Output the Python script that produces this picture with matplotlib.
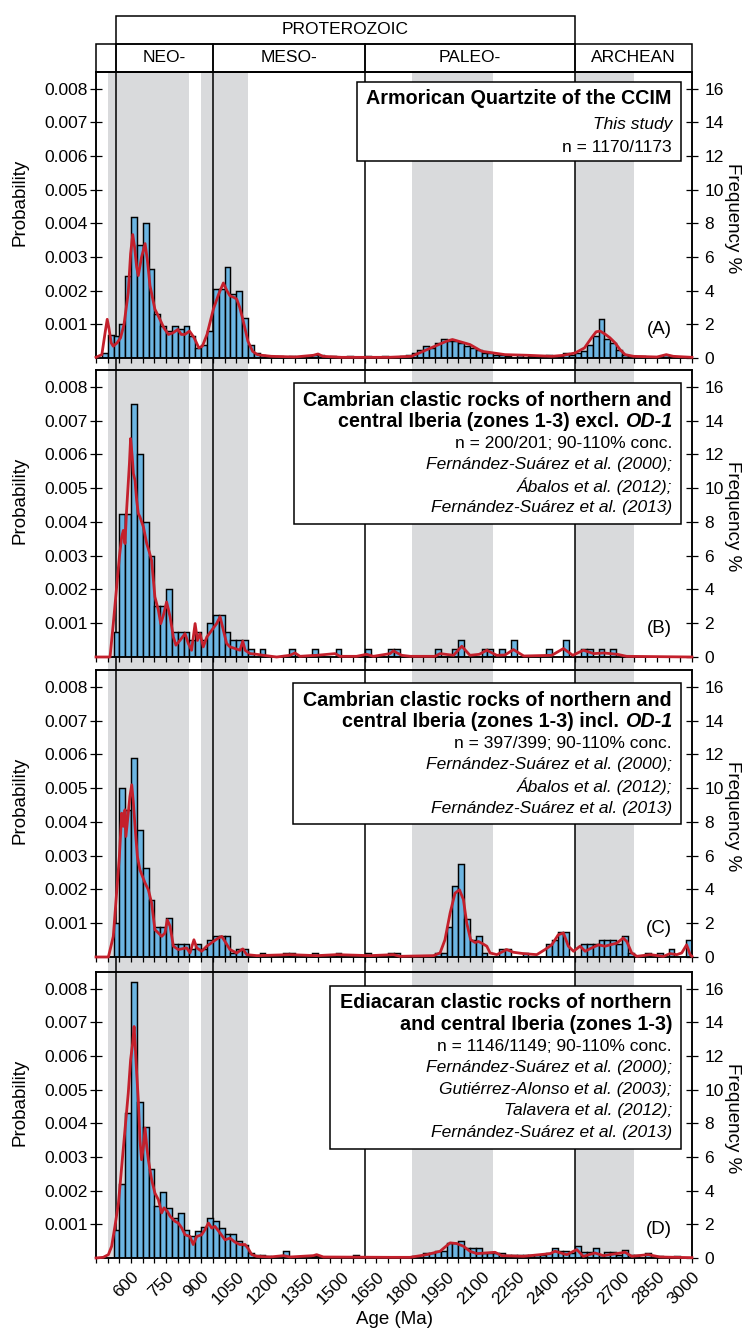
import matplotlib
matplotlib.use("Agg")
import numpy as np
import matplotlib.pyplot as plt
from matplotlib.patches import Rectangle

plt.rcParams['font.family'] = ['Liberation Sans', 'DejaVu Sans']

# ---- data -------------------------------------------------------------
bin_width = 25
age_min, age_max = 450, 3000

# grey time bands and boundaries (Ma)
bands = [(500, 850), (900, 1100), (1800, 2150), (2500, 2750)]
boundaries = [535, 950, 1600, 2500]
eon_cells = [(450, 535, ''), (535, 950, 'NEO-'), (950, 1600, 'MESO-'),
             (1600, 2500, 'PALEO-'), (2500, 3000, 'ARCHEAN')]
proterozoic = (535, 2500, 'PROTEROZOIC')

# (A) Armorican Quartzite - histogram bins (left edge, Ma) and frequency %
a_bins = [475, 500, 525, 550, 575, 600, 625, 650, 675, 700, 725, 750, 775, 800, 825,
          850, 875, 900, 925, 950, 975, 1000, 1025, 1050, 1075, 1100, 1125, 1150, 1175,
          1225, 1275, 1350, 1375, 1400, 1450, 1525, 1600, 1675, 1750, 1775, 1800, 1825,
          1850, 1875, 1900, 1925, 1950, 1975, 2000, 2025, 2050, 2075, 2100, 2125, 2150,
          2175, 2200, 2250, 2300, 2325, 2375, 2425, 2450, 2475, 2500, 2525, 2550, 2575,
          2600, 2625, 2650, 2675, 2700, 2725, 2775, 2875, 2900]
a_freq = [0.3, 1.35, 1.3, 2.0, 4.9, 8.4, 6.7, 8.0, 5.3, 2.6, 1.9, 1.6, 1.9, 1.7, 1.9,
          1.3, 0.6, 0.8, 1.6, 4.1, 4.1, 5.4, 3.8, 4.0, 2.4, 0.8, 0.3, 0.2, 0.1,
          0.1, 0.1, 0.1, 0.2, 0.2, 0.1, 0.1, 0.1, 0.1, 0.1, 0.2, 0.3, 0.5,
          0.7, 0.6, 0.9, 1.1, 1.0, 1.0, 0.9, 0.7, 0.6, 0.5, 0.3, 0.3, 0.2,
          0.2, 0.1, 0.2, 0.1, 0.1, 0.2, 0.1, 0.3, 0.2, 0.3, 0.4, 0.8, 1.3,
          2.3, 1.1, 0.9, 0.5, 0.2, 0.1, 0.1, 0.2, 0.1]
# probability density curve, age (Ma) and probability x 1000
a_pdp_age = [450, 475, 490, 498, 505, 515, 524, 540, 555, 570, 588, 598, 607, 615, 624,
             631, 645, 660, 670, 681, 702, 720, 740, 760, 780, 800, 815, 830, 850, 870,
             890, 905, 925, 952, 975, 995, 1010, 1023, 1040, 1052, 1065, 1080, 1100,
             1120, 1140, 1160, 1200, 1300, 1380, 1400, 1420, 1500, 1600, 1700, 1800,
             1850, 1900, 1950, 1975, 2000, 2050, 2075, 2100, 2150, 2200, 2300, 2400,
             2450, 2500, 2540, 2570, 2590, 2607, 2630, 2649, 2671, 2692, 2714, 2750,
             2850, 2890, 2920, 3000]
a_pdp = [0.02, 0.1, 0.8, 1.15, 0.9, 0.45, 0.35, 0.45, 0.6, 1.0, 1.95, 3.1, 3.67, 3.3, 2.7,
         2.45, 3.0, 3.4, 2.9, 2.15, 1.45, 1.2, 0.9, 0.7, 0.75, 0.85, 0.7, 0.7, 0.8, 0.6,
         0.3, 0.35, 0.7, 1.45, 1.9, 2.23, 2.0, 1.85, 1.8, 1.75, 1.5, 1.1, 0.5,
         0.2, 0.1, 0.08, 0.05, 0.03, 0.08, 0.12, 0.05, 0.02, 0.02, 0.02, 0.05,
         0.2, 0.35, 0.5, 0.55, 0.5, 0.4, 0.3, 0.2, 0.15, 0.1, 0.08, 0.05,
         0.08, 0.15, 0.3, 0.6, 0.78, 0.8, 0.7, 0.6, 0.45, 0.25, 0.1, 0.05,
         0.03, 0.1, 0.05, 0.02]

# (B) Cambrian excl. OD-1
b_bins = [525, 550, 575, 600, 625, 650, 675, 700, 725, 750, 775, 800, 825, 850, 875,
          900, 925, 950, 975, 1000, 1025, 1050, 1075, 1100, 1150, 1275, 1375, 1475, 1600,
          1700, 1725, 1900, 1975, 2000, 2100, 2125, 2175, 2225, 2375, 2450, 2525, 2550,
          2600, 2650]
b_freq = [1.5, 8.5, 8.5, 15.0, 12.0, 8.0, 6.0, 3.0, 3.0, 4.0, 1.5, 1.5, 1.5, 1.0, 1.5,
          1.0, 2.0, 2.5, 2.5, 1.5, 1.0, 1.0, 1.0, 0.5, 0.5, 0.5, 0.5, 0.5, 0.5,
          0.5, 0.5, 0.5, 0.5, 1.0, 0.5, 0.5, 0.5, 1.0, 0.5, 1.0, 0.5, 0.5,
          0.5, 0.5]
b_pdp_age = [450, 510, 524, 550, 560, 567, 574, 581, 593, 598, 605, 610, 617, 624, 631,
             638, 653, 667, 678, 688, 702, 717, 727, 738, 752, 767, 781, 792, 809, 831,
             845, 859, 874, 884, 895, 909, 924, 945, 966, 981, 995, 1009, 1023, 1045,
             1066, 1078, 1088, 1109, 1138, 1166, 1223, 1280, 1301, 1323, 1366, 1394,
             1473, 1494, 1565, 1608, 1637, 1708, 1722, 1758, 1794, 1900, 1922, 1980,
             2015, 2050, 2090, 2122, 2165, 2200, 2236, 2280, 2400, 2450, 2490, 2535,
             2580, 2621, 2680, 2720, 3000]
b_pdp = [0.0, 0.0, 0.99, 2.96, 3.56, 3.75, 3.36, 4.35, 5.73, 6.47, 5.93, 5.43, 5.23, 4.64, 4.25,
         4.15, 3.85, 3.36, 3.11, 2.86, 1.78, 1.38, 0.99, 1.23, 1.63, 1.19, 0.59, 0.35, 0.49, 0.69,
         0.40, 0.20, 0.99, 0.49, 0.69, 0.30, 0.59, 0.79, 0.99, 1.19, 0.79, 0.40, 0.30, 0.25,
         0.20, 0.47, 0.20, 0.10, 0.08, 0.05, 0.0, 0.05, 0.12, 0.02, 0.04, 0.05,
         0.10, 0.02, 0.02, 0.08, 0.02, 0.10, 0.18, 0.05, 0.02, 0.02, 0.1, 0.05,
         0.32, 0.05, 0.08, 0.2, 0.05, 0.06, 0.22, 0.03, 0.05, 0.25, 0.05, 0.2,
         0.1, 0.12, 0.08, 0.02, 0.0]

# (C) Cambrian incl. OD-1
c_bins = [525, 550, 575, 600, 625, 650, 675, 700, 725, 750, 775, 800, 825, 850, 875,
          900, 925, 950, 975, 1000, 1025, 1050, 1075, 1150, 1250, 1275, 1375, 1475, 1600,
          1700, 1725, 1900, 1925, 1950, 1975, 2000, 2025, 2050, 2075, 2100, 2175, 2200,
          2275, 2375, 2400, 2425, 2450, 2525, 2550, 2575, 2600, 2625, 2650, 2675, 2700,
          2725, 2800, 2850, 2900, 2975]
c_freq = [2.0, 10.0, 8.7, 11.8, 7.5, 5.3, 3.4, 1.8, 1.8, 2.3, 0.75, 0.75, 0.75, 0.5, 0.75,
          0.5, 1.0, 1.25, 1.25, 1.25, 0.25, 0.5, 0.5, 0.25, 0.25, 0.25, 0.25, 0.25, 0.25,
          0.25, 0.25, 0.25, 0.25, 1.8, 4.2, 5.5, 2.25, 1.0, 1.25, 0.25, 0.5, 0.5,
          0.25, 0.75, 1.0, 1.5, 1.5, 0.75, 0.75, 0.75, 1.0, 1.0, 1.0, 0.75, 1.25,
          0.25, 0.25, 0.25, 0.5, 1.0]
c_pdp_age = [450, 503, 524, 550, 560, 567, 574, 578, 588, 595, 603, 610, 617, 627, 638,
             660, 674, 688, 702, 717, 731, 745, 755, 767, 781, 802, 838, 852, 869, 881,
             902, 924, 952, 973, 988, 1002, 1023, 1052, 1078, 1095, 1138, 1280, 1394,
             1480, 1622, 1722, 1751, 1894, 1922, 1943, 1965, 1986, 2005, 2022, 2036,
             2053, 2072, 2086, 2100, 2122, 2136, 2165, 2207, 2236, 2279, 2336, 2371,
             2400, 2428, 2450, 2471, 2493, 2521, 2543, 2571, 2600, 2628, 2649, 2678,
             2706, 2721, 2742, 2764, 2821, 2878, 2906, 2935, 2956, 2977, 2992, 3000]
c_pdp = [0.0, 0.0, 0.61, 2.98, 4.26, 3.87, 4.36, 3.57, 4.26, 4.75, 5.10, 4.56, 3.87, 2.98, 2.58,
         2.19, 1.99, 1.60, 0.81, 0.71, 0.61, 0.71, 1.10, 0.91, 0.32, 0.22, 0.27, 0.12, 0.51, 0.27,
         0.17, 0.32, 0.46, 0.56, 0.61, 0.46, 0.22, 0.12, 0.24, 0.07, 0.04, 0.07, 0.04,
         0.07, 0.04, 0.07, 0.02, 0.04, 0.12, 0.51, 1.30, 1.89, 1.99, 1.70, 1.01,
         0.51, 0.43, 0.46, 0.41, 0.32, 0.12, 0.07, 0.22, 0.14, 0.10, 0.07, 0.22,
         0.36, 0.66, 0.71, 0.32, 0.17, 0.32, 0.17, 0.27, 0.36, 0.32, 0.36, 0.41,
         0.56, 0.46, 0.12, 0.02, 0.07, 0.02, 0.10, 0.07, 0.12, 0.36, 0.07, 0.02]

# (D) Ediacaran
d_bins = [525, 550, 575, 600, 625, 650, 675, 700, 725, 750, 775, 800, 825, 850, 875,
          900, 925, 950, 975, 1000, 1025, 1050, 1075, 1100, 1125, 1150, 1175, 1250, 1375,
          1550, 1800, 1850, 1875, 1900, 1925, 1950, 1975, 2000, 2025, 2050, 2075, 2100,
          2125, 2150, 2175, 2200, 2225, 2250, 2275, 2300, 2325, 2350, 2375, 2400, 2425,
          2450, 2475, 2500, 2525, 2550, 2575, 2600, 2625, 2650, 2675, 2700, 2725, 2750,
          2800, 2850, 2925]
d_freq = [1.65, 4.4, 8.6, 16.4, 9.3, 7.8, 5.3, 3.1, 3.9, 3.0, 2.4, 2.7, 1.65, 1.3, 1.6,
          1.85, 2.4, 2.2, 1.8, 1.4, 1.4, 1.0, 0.8, 0.3, 0.2, 0.2, 0.1, 0.4, 0.1,
          0.15, 0.1, 0.3, 0.3, 0.4, 0.4, 0.9, 0.9, 1.0, 0.6, 0.6, 0.6, 0.3,
          0.3, 0.3, 0.3, 0.2, 0.2, 0.2, 0.2, 0.2, 0.2, 0.2, 0.3, 0.6, 0.4,
          0.4, 0.3, 0.7, 0.35, 0.35, 0.6, 0.2, 0.35, 0.35, 0.2, 0.45, 0.15, 0.15,
          0.3, 0.1, 0.1]
d_pdp_age = [450, 481, 503, 517, 531, 546, 560, 574, 588, 598, 607, 613, 618, 624, 631,
             638, 645, 653, 660, 667, 674, 681, 688, 702, 717, 731, 741, 755, 767, 788,
             802, 817, 831, 852, 866, 881, 902, 916, 931, 945, 959, 981, 1002, 1023,
             1045, 1066, 1088, 1102, 1116, 1138, 1195, 1252, 1280, 1380, 1394, 1423,
             1708, 1794, 1865, 1922, 1965, 1993, 2022, 2050, 2079, 2157, 2186, 2279,
             2393, 2414, 2464, 2507, 2535, 2585, 2621, 2714, 2742, 2813, 2863, 3000]
d_pdp = [0.0, 0.02, 0.10, 0.35, 0.94, 1.63, 2.72, 3.81, 4.90, 5.89, 6.39, 6.88, 6.29, 5.50, 4.70,
         3.51, 2.92, 3.32, 3.86, 3.32, 2.92, 2.62, 2.33, 1.93, 1.73, 1.34, 1.49, 1.39, 1.24, 1.09,
         1.04, 0.89, 0.69, 0.64, 0.40, 0.64, 0.69, 0.84, 1.04, 0.89, 0.94, 0.74, 0.54, 0.59,
         0.47, 0.40, 0.40, 0.27, 0.10, 0.05, 0.03, 0.07, 0.03, 0.07, 0.10, 0.03,
         0.02, 0.02, 0.10, 0.20, 0.45, 0.43, 0.35, 0.20, 0.13, 0.17, 0.07, 0.05,
         0.13, 0.20, 0.10, 0.25, 0.05, 0.15, 0.07, 0.17, 0.05, 0.10, 0.03, 0.01]

# text boxes
a_lines = [("Armorican Quartzite of the CCIM", 'bold'), ("This study", 'italic'),
           ("n = 1170/1173", 'normal')]
b_lines = [("Cambrian clastic rocks of northern and", 'bold'),
           (["central Iberia (zones 1-3) excl. ", "OD-1"], 'mixed'),
           ("n = 200/201; 90-110% conc.", 'normal'),
           ("Fernández-Suárez et al. (2000);", 'italic'),
           ("Ábalos et al. (2012);", 'italic'),
           ("Fernández-Suárez et al. (2013)", 'italic')]
c_lines = [("Cambrian clastic rocks of northern and", 'bold'),
           (["central Iberia (zones 1-3) incl. ", "OD-1"], 'mixed'),
           ("n = 397/399; 90-110% conc.", 'normal'),
           ("Fernández-Suárez et al. (2000);", 'italic'),
           ("Ábalos et al. (2012);", 'italic'),
           ("Fernández-Suárez et al. (2013)", 'italic')]
d_lines = [("Ediacaran clastic rocks of northern", 'bold'),
           ("and central Iberia (zones 1-3)", 'bold'),
           ("n = 1146/1149; 90-110% conc.", 'normal'),
           ("Fernández-Suárez et al. (2000);", 'italic'),
           ("Gutiérrez-Alonso et al. (2003);", 'italic'),
           ("Talavera et al. (2012);", 'italic'),
           ("Fernández-Suárez et al. (2013)", 'italic')]

# ---- layout (pixels) --------------------------------------------------
W, H = 747, 1331
X0, X1 = 96, 692
fig = plt.figure(figsize=(W / 100, H / 100), dpi=100)
renderer = fig.canvas.get_renderer()


def px_rect(x0, y0, x1, y1):
    return [x0 / W, 1 - y1 / H, (x1 - x0) / W, (y1 - y0) / H]


BLUE = '#6cb5e2'
RED = '#c4202c'
GREY = '#d9dadc'
LW = 1.1

# grey bands + boundary lines behind all panels
bg = fig.add_axes(px_rect(X0, 72, X1, 1258))
bg.set_zorder(0)
bg.set_xlim(age_min, age_max)
bg.set_ylim(0, 1)
bg.axis('off')
for lo, hi in bands:
    bg.axvspan(lo, hi, color=GREY, lw=0)
for v in boundaries:
    bg.axvline(v, color='k', lw=LW)

# eon header
hd = fig.add_axes(px_rect(X0, 16, X1, 72))
hd.set_xlim(age_min, age_max)
hd.set_ylim(0, 2)
hd.axis('off')
for lo, hi, name in eon_cells:
    hd.add_patch(Rectangle((lo, 0), hi - lo, 1, fill=False, ec='k', lw=LW, clip_on=False))
    if name:
        hd.text((lo + hi) / 2, 0.5, name, ha='center', va='center', fontsize=12.5)
lo, hi, name = proterozoic
hd.add_patch(Rectangle((lo, 1), hi - lo, 1, fill=False, ec='k', lw=LW, clip_on=False))
hd.text((lo + hi) / 2, 1.5, name, ha='center', va='center', fontsize=12.5)

panels = [
    ("(A)", 72, 358, a_bins, a_freq, a_pdp_age, a_pdp, a_lines, (357, 82), [98, 125, 147]),
    ("(B)", 370, 657, b_bins, b_freq, b_pdp_age, b_pdp, b_lines, (294, 383), None),
    ("(C)", 670, 957, c_bins, c_freq, c_pdp_age, c_pdp, c_lines, (293, 683), None),
    ("(D)", 972, 1258, d_bins, d_freq, d_pdp_age, d_pdp, d_lines, (330, 986), None),
]

TXT_R = 672
BOX_R = 681

for i, (tag, top, bot, bins, freq, pa, pp, lines, (bx, by), ys) in enumerate(panels):
    ax = fig.add_axes(px_rect(X0, top, X1, bot))
    ax2 = ax.twinx()
    ax2.set_zorder(2)
    ax.set_zorder(3)
    ax.patch.set_visible(False)
    ax2.patch.set_visible(False)

    ax2.bar(bins, freq, width=bin_width, align='edge', color=BLUE, edgecolor='k',
            linewidth=1.05, zorder=2)
    ax.plot(pa, np.array(pp) * 1e-3, color=RED, lw=2.0, zorder=4, clip_on=False)

    ax.set_xlim(age_min, age_max)
    ax.set_ylim(0, 0.0085)
    ax2.set_ylim(0, 17)

    ax.set_yticks(np.arange(1, 9) * 0.001)
    ax.set_yticklabels([f"{v:.3f}" for v in np.arange(1, 9) * 0.001])
    ax2.set_yticks(range(0, 17, 2))
    ax.set_xticks(range(600, 3001, 150))
    ax.set_xticks(range(450, 3001, 50), minor=True)
    if i == 3:
        ax.set_xticklabels([str(v) for v in range(600, 3001, 150)], rotation=45,
                           ha='right', va='top', rotation_mode='anchor', fontsize=12.5)
    else:
        ax.set_xticklabels([])

    ax.tick_params(axis='y', direction='inout', length=8, width=0.9, labelsize=12.5, pad=2)
    ax2.tick_params(axis='y', direction='inout', length=8, width=0.9, labelsize=12.5, pad=5)
    ax.tick_params(axis='x', which='both', direction='out', length=3.8, width=0.9, pad=4)
    for a in (ax, ax2):
        for s in a.spines.values():
            s.set_linewidth(LW)

    h = bot - top
    fig.text(20 / W, 1 - (top + 0.455 * h) / H, "Probability", rotation=90,
             ha='center', va='center', fontsize=13.5)
    fig.text(733 / W, 1 - (top + 0.51 * h) / H, "Frequency %", rotation=270,
             ha='center', va='center', fontsize=13.5)
    ax.text(0.966, 0.1, tag, transform=ax.transAxes, ha='right', va='center',
            fontsize=13.5, zorder=12)

    # legend box
    if ys is None:
        ys = [by + 17 + 21.6 * k for k in range(len(lines))]
        box_bot = ys[-1] + 16
    else:
        box_bot = 161
    ax.add_patch(Rectangle((bx / W, 1 - box_bot / H), (BOX_R - bx) / W, (box_bot - by) / H,
                           transform=fig.transFigure, facecolor='white', edgecolor='k',
                           lw=LW, zorder=10, clip_on=False))
    for (txt, style), y in zip(lines, ys):
        yy = 1 - y / H
        if style == 'mixed':
            t = ax.text(TXT_R / W, yy, txt[1], transform=fig.transFigure, ha='right',
                        va='center', fontsize=14.2, fontweight='bold', fontstyle='italic',
                        zorder=11)
            wpx = t.get_window_extent(renderer).width
            ax.text((TXT_R - wpx) / W, yy, txt[0], transform=fig.transFigure, ha='right',
                    va='center', fontsize=14.2, fontweight='bold', zorder=11)
        elif style == 'bold':
            ax.text(TXT_R / W, yy, txt, transform=fig.transFigure, ha='right', va='center',
                    fontsize=14.2, fontweight='bold', zorder=11)
        else:
            ax.text(TXT_R / W, yy, txt, transform=fig.transFigure, ha='right', va='center',
                    fontsize=12.5, fontstyle=style, zorder=11)

fig.text(394 / W, 1 - 1319 / H, "Age (Ma)", ha='center', va='center', fontsize=13.5)

fig.savefig("out.png", dpi=100)
